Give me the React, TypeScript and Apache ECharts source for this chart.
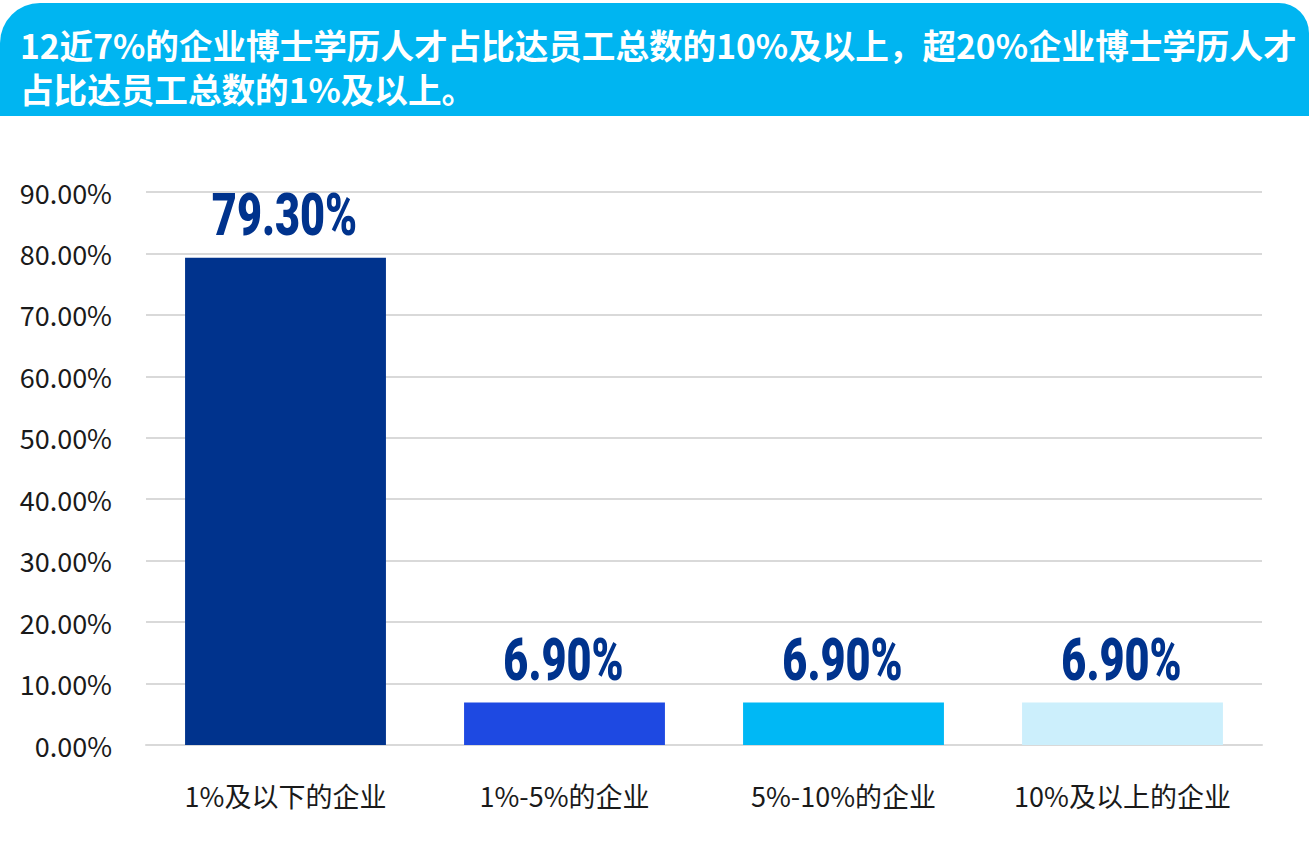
import React, { useEffect, useRef } from "react";
import * as echarts from "echarts";

// Share of enterprises by PhD-holder ratio among staff
const categories = ["1%及以下的企业", "1%-5%的企业", "5%-10%的企业", "10%及以上的企业"];
const values = [79.3, 6.9, 6.9, 6.9];
const barColors = ["#00338D", "#1E49E2", "#00B8F5", "#CCEFFC"];
const titleLines = [
  "12近7%的企业博士学历人才占比达员工总数的10%及以上，超20%企业博士学历人才",
  "占比达员工总数的1%及以上。",
];

const W = 1309;
const H = 848;

export default function App() {
  const ref = useRef<HTMLDivElement | null>(null);

  useEffect(() => {
    if (!ref.current) return;
    const chart = echarts.init(ref.current, null, { renderer: "svg" });
    const cjk = "'Noto Sans CJK SC', 'Noto Sans', sans-serif";

    // header banner with its two lines of text
    const titleTexts = titleLines.map((line, i) => ({
      type: "text",
      x: 20,
      y: 44 + i * 44,
      z: 1,
      style: {
        text: line,
        fill: "#ffffff",
        fontFamily: cjk,
        fontWeight: "bold",
        fontSize: 33.6,
        lineHeight: 36,
        verticalAlign: "middle",
        align: "left",
      },
    }));

    chart.setOption({
      animation: false,
      backgroundColor: "#ffffff",
      graphic: [
        {
          type: "rect",
          shape: { x: 0, y: 3, width: W, height: 113, r: [40, 30, 0, 0] },
          style: { fill: "#00B5F1" },
          z: 0,
        },
        ...titleTexts,
      ],
      grid: { left: 146, right: W - 1262, top: 192, bottom: H - 745, containLabel: false },
      xAxis: {
        type: "category",
        data: categories,
        axisLine: { show: true, lineStyle: { color: "#d9d9d9", width: 2 } },
        axisTick: { show: false },
        axisLabel: {
          interval: 0,
          color: "#1a1a1a",
          fontSize: 27,
          fontFamily: cjk,
          margin: 37,
        },
      },
      yAxis: {
        type: "value",
        min: 0,
        max: 90,
        interval: 10,
        axisLine: { show: false },
        axisTick: { show: false },
        axisLabel: {
          color: "#1a1a1a",
          fontSize: 27,
          fontFamily: cjk,
          margin: 34,
          formatter: (v: number) => v.toFixed(2) + "%",
        },
        splitLine: { lineStyle: { color: "#d9d9d9", width: 2 } },
      },
      series: [
        {
          type: "bar",
          barWidth: "72%",
          data: values.map((v, i) => ({ value: v, itemStyle: { color: barColors[i] } })),
        },
        {
          // condensed value labels above each bar
          type: "custom",
          data: values.map((v, i) => [i, v]),
          renderItem: (params: any, api: any) => {
            const idx = api.value(0);
            const val = api.value(1);
            const pt = api.coord([idx, val]);
            return {
              type: "text",
              x: pt[0] - 1,
              y: pt[1] - 43,
              scaleX: 0.72,
              style: {
                text: Number(val).toFixed(2) + "%",
                fill: "#00338D",
                fontFamily: "Roboto, 'DejaVu Sans', sans-serif",
                fontWeight: 900,
                fontSize: 60,
                align: "center",
                verticalAlign: "middle",
              },
            };
          },
          z: 3,
        },
      ],
    });

    return () => chart.dispose();
  }, []);

  return (
    <div
      ref={ref}
      style={{ position: "absolute", left: 0, top: 0, width: W, height: H }}
    />
  );
}
